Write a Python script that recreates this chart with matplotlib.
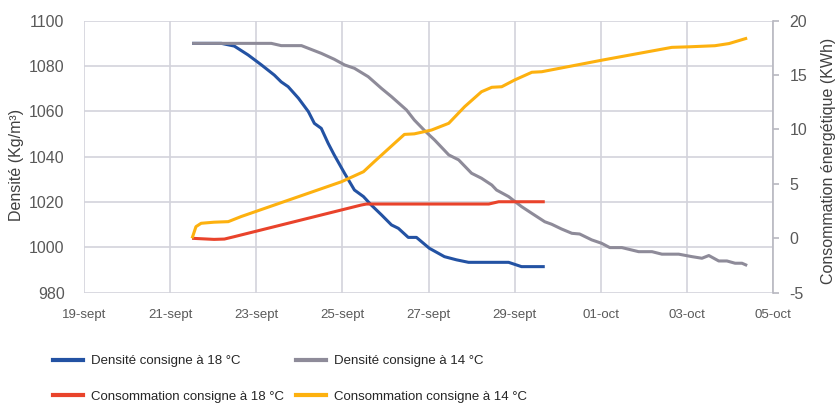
import matplotlib.pyplot as plt
from matplotlib.lines import Line2D

# x values are day numbers counted from 1 sept (01-oct = 31)
blue_days = [21.51, 22.19, 22.49, 22.81, 23.12, 23.42, 23.58, 23.74, 23.98, 24.21,
             24.35, 24.51, 24.67, 24.81, 25.05, 25.28, 25.49, 25.67, 25.91, 26.14,
             26.30, 26.53, 26.72, 27.02, 27.37, 27.65, 27.93, 28.86, 29.16, 29.70]
blue_dens = [1090, 1090, 1088.8, 1084.9, 1080.5, 1076, 1073, 1070.9, 1065.8, 1059.9,
             1054.7, 1052.5, 1045.9, 1040.8, 1032.7, 1025.3, 1022.4, 1018.7, 1014.3, 1009.9,
             1008.4, 1004.4, 1004.4, 999.6, 995.9, 994.5, 993.4, 993.4, 991.5, 991.5]

gray_days = [21.51, 23.35, 23.58, 24.05, 24.51, 24.81, 25.05, 25.28, 25.60, 25.91,
             26.14, 26.49, 26.67, 26.91, 27.14, 27.47, 27.70, 28.00, 28.23, 28.47,
             28.58, 28.86, 29.16, 29.40, 29.70, 29.86, 30.09, 30.33, 30.51, 30.79,
             31.02, 31.21, 31.49, 31.88, 32.19, 32.42, 32.81, 33.12, 33.35, 33.51,
             33.74, 33.93, 34.12, 34.28, 34.40]
gray_dens = [1090, 1090, 1089, 1089, 1085.6, 1083, 1080.5, 1079, 1075.3, 1070.1,
             1066.5, 1060.6, 1056.2, 1051.5, 1047.4, 1040.8, 1038.6, 1032.7, 1030.5, 1027.5,
             1025.3, 1022.4, 1018, 1015, 1011.3, 1010.2, 1008.1, 1006.2, 1005.9, 1003.3,
             1001.8, 999.9, 999.9, 998.1, 998.1, 997, 997, 995.9, 995.2, 996.4,
             994, 994, 993, 993, 992]

red_days = [21.51, 22.02, 22.26, 22.49, 25.44, 25.56, 28.40, 28.63, 29.70]
red_kwh = [0, -0.1, -0.07, 0.15, 3.06, 3.15, 3.15, 3.36, 3.36]

yellow_days = [21.51, 21.60, 21.72, 22.02, 22.35, 22.65, 24.98, 25.49, 25.74, 26.21,
               26.44, 26.67, 27.07, 27.47, 27.84, 28.23, 28.47, 28.70, 29.00, 29.40,
               29.63, 31.05, 32.65, 33.05, 33.65, 33.98, 34.40]
yellow_kwh = [0, 1.07, 1.38, 1.48, 1.53, 2.0, 5.2, 6.12, 7.04, 8.73,
              9.55, 9.6, 9.95, 10.57, 12.1, 13.47, 13.88, 13.93, 14.55, 15.26,
              15.31, 16.39, 17.55, 17.6, 17.7, 17.9, 18.4]

xtick_days = [19, 21, 23, 25, 27, 29, 31, 33, 35]
xtick_labels = ['19-sept', '21-sept', '23-sept', '25-sept', '27-sept', '29-sept',
                '01-oct', '03-oct', '05-oct']

labels = ['Densité consigne à 18 °C', 'Consommation consigne à 18 °C',
          'Densité consigne à 14 °C', 'Consommation consigne à 14 °C']
c_blue, c_red, c_gray, c_yellow = '#2352A3', '#E9432B', '#8E8B99', '#FDB10F'

plt.rcParams['font.family'] = ['Liberation Sans', 'DejaVu Sans']
plt.rcParams['axes.unicode_minus'] = False
tick_col = '#595959'
grid_col = '#D3D3DB'

fig = plt.figure(figsize=(8.38, 4.03), dpi=100)
ax = fig.add_axes([84/838, 1-292.7/403, 689/838, 272/403])
ax2 = ax.twinx()

ax.plot(blue_days, blue_dens, color=c_blue, lw=2.2, solid_capstyle='butt')
ax.plot(gray_days, gray_dens, color=c_gray, lw=2.2, solid_capstyle='butt')
ax2.plot(red_days, red_kwh, color=c_red, lw=2.2, solid_capstyle='butt')
ax2.plot(yellow_days, yellow_kwh, color=c_yellow, lw=2.2, solid_capstyle='butt')

ax.set_xlim(19, 35)
ax.set_ylim(980, 1100)
ax.set_yticks(range(980, 1101, 20))
ax2.set_ylim(-5, 20)
ax2.set_yticks(range(-5, 21, 5))
ax.set_xticks(xtick_days)
ax.set_xticklabels(xtick_labels, fontsize=9.5)

ax.grid(True, color=grid_col, lw=1.2)
ax.set_axisbelow(True)
for s in ax.spines.values():
    s.set_visible(False)
for s in ['left', 'top', 'bottom']:
    ax2.spines[s].set_visible(False)
ax2.spines['right'].set_color('#B8B8C0')
ax2.spines['right'].set_linewidth(1.2)

ax.tick_params(axis='y', length=0, pad=14, labelsize=11.5, labelcolor=tick_col)
ax.tick_params(axis='x', length=0, pad=12, labelcolor=tick_col)
ax2.tick_params(axis='y', length=4, width=1.2, color='#B8B8C0', pad=8,
                labelsize=11.5, labelcolor=tick_col)

ax.set_ylabel('Densité (Kg/m³)', fontsize=11.5, color='#404040')
ax.yaxis.set_label_coords(-0.087, 0.47)
ax2.set_ylabel('Consommation énergétique (KWh)', fontsize=11.5, color='#404040',
               rotation=90)
ax2.yaxis.set_label_coords(1.07, 0.485)

leg_font = {'size': 9.5}
h1 = [Line2D([], [], color=c_blue, lw=3), Line2D([], [], color=c_red, lw=3)]
h2 = [Line2D([], [], color=c_gray, lw=3), Line2D([], [], color=c_yellow, lw=3)]
fig.legend(h1, labels[:2], loc='upper left', bbox_to_anchor=(53/838, 1-355/403),
           frameon=False, borderpad=0, borderaxespad=0, handlelength=2.3,
           handletextpad=0.55, labelspacing=1.75, prop=leg_font, labelcolor='#262626')
fig.legend(h2, labels[2:], loc='upper left', bbox_to_anchor=(296/838, 1-355/403),
           frameon=False, borderpad=0, borderaxespad=0, handlelength=2.3,
           handletextpad=0.55, labelspacing=1.75, prop=leg_font, labelcolor='#262626')

fig.savefig('out.png', dpi=100)
